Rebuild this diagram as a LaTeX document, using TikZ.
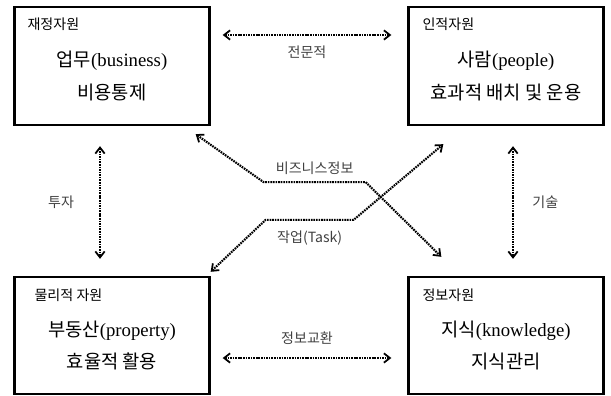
\documentclass[tikz,border=0pt]{standalone}
\usepackage{fontspec}
\setmainfont{Noto Sans CJK KR}
\newfontfamily\latinserif{Liberation Serif}
\usetikzlibrary{arrows.meta}

\begin{document}
\begin{tikzpicture}[
    x=0.03cm, y=-0.03cm,
    >={Straight Barb[length=1.8mm,width=2.8mm,line width=1.5pt]},
    box/.style={draw=black,line width=2pt,minimum width=5.85cm,minimum height=#1,inner sep=0pt},
    box/.default=3.54cm,
    title/.style={anchor=west,inner sep=0pt,font=\fontsize{12}{14}\selectfont},
    content/.style={align=center,inner sep=0pt,font=\fontsize{16}{28}\selectfont},
    link/.style={<->,line width=1.8pt,dash pattern=on 1.4pt off 0.8pt},
    tag/.style={inner sep=0pt,text=black!75,font=\fontsize{12}{14}\selectfont}
  ]
    \useasboundingbox (0,0) rectangle (611,396);

    % four resource boxes
    \node[box] (fin) at (112,66) {};
    \node[title] at ([xshift=0.42cm,yshift=-0.54cm]fin.north west) {재정자원};
    \node[content] at ([yshift=-0.3cm]fin.center) {업무{\latinserif (business)}\\비용통제};

    \node[box] (hum) at (506,66) {};
    \node[title] at ([xshift=0.45cm,yshift=-0.54cm]hum.north west) {인적자원};
    \node[content] at ([yshift=-0.3cm]hum.center) {사람{\latinserif (people)}\\효과적 배치 및 운용};

    \node[box=3.51cm] (phy) at (112,335.5) {};
    \node[title] at ([xshift=0.63cm,yshift=-0.57cm]phy.north west) {물리적 자원};
    \node[content] at ([yshift=-0.3cm]phy.center) {부동산{\latinserif (property)}\\효율적 활용};

    \node[box=3.51cm] (inf) at (506,335.5) {};
    \node[title] at ([xshift=0.45cm,yshift=-0.57cm]inf.north west) {정보자원};
    \node[content] at ([yshift=-0.3cm]inf.center) {지식{\latinserif (knowledge)}\\지식관리};

    % links between boxes
    \draw[link] ([xshift=0.36cm,yshift=0.93cm]fin.east) -- ([xshift=-0.48cm,yshift=0.93cm]hum.west)
      node[tag,midway,below=0.3cm] {전문적};
    \draw[link] ([xshift=0.36cm,yshift=-0.675cm]phy.east) -- ([xshift=-0.48cm,yshift=-0.675cm]inf.west)
      node[tag,midway,above=0.36cm] {정보교환};
    \draw[link] ([xshift=-0.36cm,yshift=-0.6cm]fin.south) -- ([xshift=-0.36cm,yshift=0.51cm]phy.north)
      node[tag,midway,left=0.75cm] {투자};
    \draw[link] ([xshift=0.21cm,yshift=-0.6cm]hum.south) -- ([xshift=0.21cm,yshift=0.51cm]inf.north)
      node[tag,midway,right=0.55cm] {기술};

    \draw[link] ([xshift=-0.45cm,yshift=-0.24cm]fin.south east) -- ++(68,48)
      -- ++(102,0) node[tag,midway,above=0.2cm] {비즈니스정보}
      -- ([xshift=1.02cm,yshift=0.57cm]inf.north west);
    \draw[link] ([yshift=0.12cm]phy.north east) -- ++(55,-52)
      -- ++(88,0) node[tag,midway,below=0.3cm] {작업(Task)}
      -- ([xshift=1.08cm,yshift=-0.54cm]hum.south west);
\end{tikzpicture}
\end{document}
